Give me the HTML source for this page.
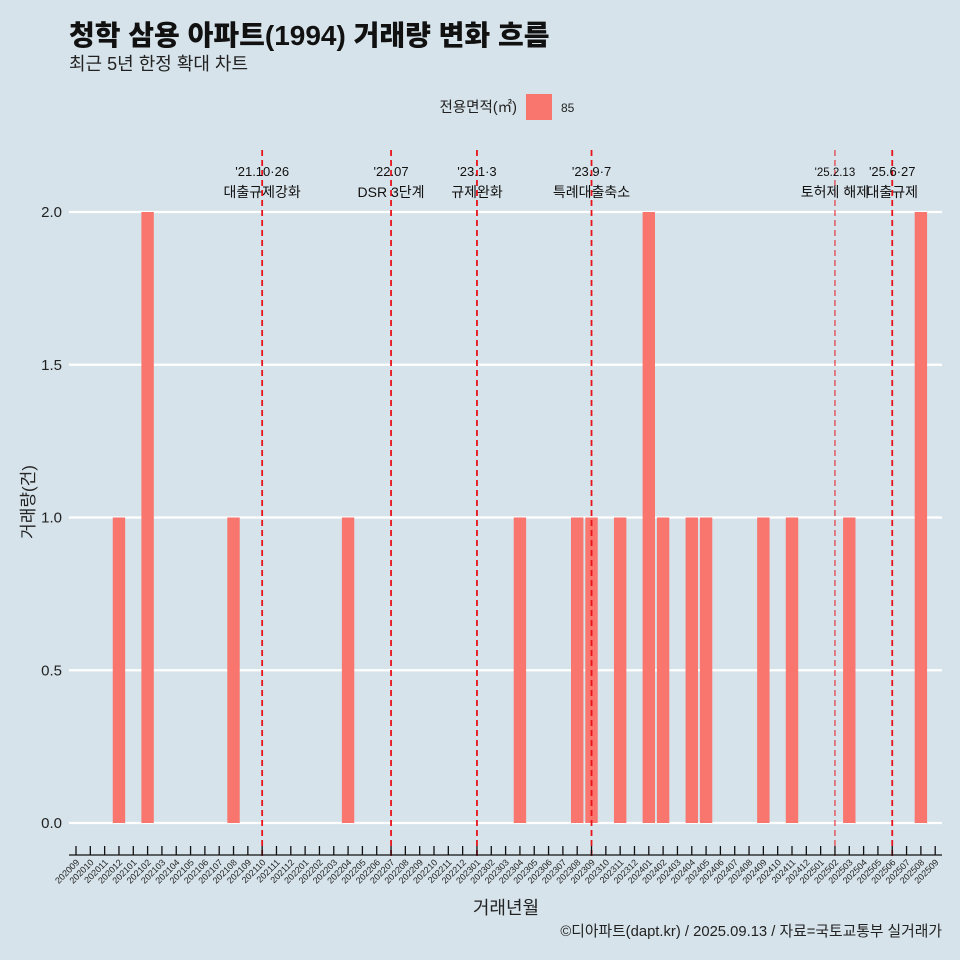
<!DOCTYPE html>
<html><head><meta charset="utf-8">
<style>
html,body{margin:0;padding:0;background:#d6e3ea;}
svg{display:block;font-family:"Liberation Sans","Noto Sans CJK KR",sans-serif;}
</style></head>
<body>
<svg id="chart" width="960" height="960" viewBox="0 0 960 960">
<rect x="0" y="0" width="960" height="960" fill="#d6e3ea"/>
<text x="69" y="45" font-size="28" font-weight="900" fill="#111">청학 삼용 아파트(1994) 거래량 변화 흐름</text>
<text x="69" y="70" font-size="18" fill="#222">최근 5년 한정 확대 차트</text>
<g>
<text x="517" y="112" font-size="14.5" text-anchor="end" fill="#222">전용면적(㎡)</text>
<rect x="526" y="94" width="26" height="26" fill="#f8766d"/>
<text x="561" y="112" font-size="12" fill="#222">85</text>
</g>
<g id="grid"></g><g id="bars"></g><g id="events"></g><g id="xaxis"></g><g id="yaxis"></g>
<text x="506" y="914" font-size="18" text-anchor="middle" fill="#222">거래년월</text>
<text transform="translate(34,502) rotate(-90)" font-size="17" text-anchor="middle" fill="#222">거래량(건)</text>
<text x="942" y="936" font-size="14.8" text-anchor="end" fill="#222">©디아파트(dapt.kr) / 2025.09.13 / 자료=국토교통부 실거래가</text>
</svg>
<script>
const categories = [];
for (let y = 2020, m = 9; !(y === 2025 && m === 10); ) { categories.push(String(y) + String(m).padStart(2, '0')); m++; if (m > 12) { m = 1; y++; } }
const barMonths = ['202012','202102','202108','202204','202304','202308','202309','202311','202401','202402','202404','202405','202409','202411','202503','202508'];
const barValues = [1,2,1,1,1,1,1,1,2,1,1,1,1,1,1,2];
const yTicks = [0,0.5,1,1.5,2];
const yTickLabels = ['0.0','0.5','1.0','1.5','2.0'];
const eventMonths = ['202110','202207','202301','202309','202502','202506'];
const eventDates = ["'21.10·26","'22.07","'23.1·3","'23.9·7","'25.2.13","'25.6·27"];
const eventLabels = ['대출규제강화','DSR 3단계','규제완화','특례대출축소','토허제 해제','대출규제'];

const NS = 'http://www.w3.org/2000/svg';
const X0 = 76, DX = 14.32, Y0 = 823, YS = 305.5;
const xs = i => X0 + i * DX;
const ys = v => Y0 - v * YS;
function mk(tag, attrs, parent) { const e = document.createElementNS(NS, tag); for (const k in attrs) e.setAttribute(k, attrs[k]); document.getElementById(parent).appendChild(e); return e; }

yTicks.forEach((v, i) => {
  const g = mk('line', {x1: 69, x2: 942, y1: ys(v), y2: ys(v), stroke: '#fff', 'stroke-width': 2.2}, 'grid');
  
  
  const t = mk('text', {x: 62, y: ys(v) + 5, 'font-size': 15, 'text-anchor': 'end', fill: '#222'}, 'yaxis');
  t.textContent = yTickLabels[i];
  
  
});

barMonths.forEach((mo, i) => {
  const idx = categories.indexOf(mo);
  const r = mk('rect', {x: xs(idx) - 6.2, y: ys(barValues[i]), width: 12.4, height: Y0 - ys(barValues[i]), fill: '#f8766d'}, 'bars');
  
  
});

eventMonths.forEach((mo, i) => {
  const x = xs(categories.indexOf(mo));
  const thin = mo === '202502';
  const l = mk('line', {x1: x, x2: x, y1: 150, y2: 856, stroke: '#e8141c', 'stroke-width': thin ? 1 : 1.8, 'stroke-dasharray': '6,4'}, 'events');
  
  
  const fs = thin ? 11.5 : 13;
  const t1 = mk('text', {x: x, y: 176, 'font-size': fs, 'text-anchor': 'middle', fill: '#111'}, 'events');
  t1.textContent = eventDates[i];
  
  
  const t2 = mk('text', {x: x, y: 197, 'font-size': 14, 'text-anchor': 'middle', fill: '#111'}, 'events');
  t2.textContent = eventLabels[i];
  
  
});

const ax = mk('line', {x1: 69, x2: 942, y1: 855, y2: 855, stroke: '#111', 'stroke-width': 1.3}, 'xaxis');


categories.forEach((c, i) => {
  const x = xs(i);
  const tk = mk('line', {x1: x, x2: x, y1: 846, y2: 855, stroke: '#111', 'stroke-width': 1.3}, 'xaxis');
  
  
  const t = mk('text', {x: x + 4, y: 863, 'font-size': 9, 'text-anchor': 'end', fill: '#222', transform: 'rotate(-45 ' + (x + 4) + ' 863)'}, 'xaxis');
  t.textContent = c;
  
  
});
</script>
</body></html>
